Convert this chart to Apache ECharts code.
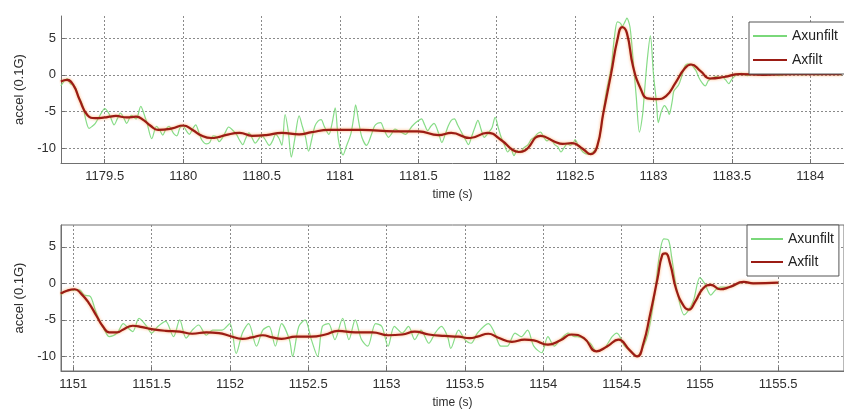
<!DOCTYPE html>
<html>
<head>
<meta charset="utf-8">
<script src="https://cdn.jsdelivr.net/npm/echarts@6/dist/echarts.min.js"></script>
<style>
html,body{margin:0;padding:0;background:#fff;}
#chart{width:844px;height:412px;}
</style>
</head>
<body>
<div id="chart"></div>
<script>
// ---------- data ----------
var seriesNames = ['Axunfilt', 'Axfilt'];
var yTicks = [-10, -5, 0, 5];
var topXTicks = [1179.5, 1180, 1180.5, 1181, 1181.5, 1182, 1182.5, 1183, 1183.5, 1184];
var botXTicks = [1151, 1151.5, 1152, 1152.5, 1153, 1153.5, 1154, 1154.5, 1155, 1155.5];

// top panel, unfiltered
var topRawT = [1179.22,1179.24,1179.26,1179.28,1179.31,1179.33,1179.36,1179.38,1179.40,1179.42,1179.44,1179.47,1179.50,1179.53,1179.56,1179.58,1179.60,1179.62,1179.64,1179.67,1179.70,1179.73,1179.75,1179.77,1179.80,1179.83,1179.85,1179.87,1179.89,1179.91,1179.94,1179.96,1179.98,1180.00,1180.02,1180.04,1180.06,1180.08,1180.10,1180.12,1180.15,1180.17,1180.19,1180.21,1180.23,1180.25,1180.27,1180.29,1180.31,1180.34,1180.36,1180.38,1180.40,1180.42,1180.44,1180.46,1180.48,1180.50,1180.52,1180.55,1180.57,1180.59,1180.61,1180.63,1180.65,1180.67,1180.69,1180.71,1180.74,1180.76,1180.78,1180.80,1180.82,1180.84,1180.86,1180.88,1180.90,1180.93,1180.95,1180.97,1180.99,1181.02,1181.04,1181.07,1181.09,1181.10,1181.12,1181.14,1181.17,1181.20,1181.22,1181.24,1181.26,1181.28,1181.31,1181.33,1181.35,1181.38,1181.42,1181.44,1181.46,1181.49,1181.52,1181.54,1181.56,1181.58,1181.60,1181.63,1181.65,1181.67,1181.69,1181.71,1181.73,1181.75,1181.77,1181.80,1181.82,1181.84,1181.86,1181.88,1181.90,1181.92,1181.95,1181.97,1181.99,1182.01,1182.03,1182.05,1182.07,1182.09,1182.11,1182.13,1182.15,1182.17,1182.20,1182.22,1182.24,1182.26,1182.28,1182.30,1182.32,1182.34,1182.37,1182.39,1182.41,1182.43,1182.45,1182.47,1182.49,1182.50,1182.52,1182.55,1182.58,1182.60,1182.62,1182.64,1182.66,1182.68,1182.70,1182.73,1182.75,1182.77,1182.79,1182.80,1182.82,1182.83,1182.85,1182.87,1182.89,1182.91,1182.93,1182.94,1182.96,1182.98,1183.00,1183.02,1183.03,1183.05,1183.07,1183.09,1183.10,1183.12,1183.13,1183.16,1183.18,1183.20,1183.22,1183.24,1183.27,1183.29,1183.31,1183.33,1183.35,1183.37,1183.40,1183.42,1183.44,1183.46,1183.48,1183.50,1183.53,1183.56,1183.60,1183.65,1183.70,1183.75,1183.80,1183.85,1183.90,1183.95,1184.00,1184.05,1184.10,1184.15,1184.20];
var topRawV = [-1.5,-0.9,-0.5,-1.2,-1.6,-2.8,-4.2,-6.2,-7.3,-7.0,-6.6,-5.5,-4.6,-5.4,-6.8,-6.0,-5.2,-5.8,-6.6,-5.5,-6.0,-4.3,-5.3,-6.6,-8.7,-7.0,-7.5,-8.2,-7.4,-7.0,-8.0,-8.3,-7.2,-7.0,-7.6,-8.1,-7.4,-6.8,-7.8,-8.9,-9.4,-9.2,-8.3,-8.4,-9.1,-8.6,-7.8,-7.1,-7.4,-8.1,-8.9,-9.5,-8.6,-7.9,-8.6,-9.3,-8.8,-8.2,-8.7,-9.6,-9.0,-8.1,-8.6,-9.6,-5.4,-7.6,-11.2,-9.0,-5.6,-7.0,-8.4,-10.4,-8.8,-7.0,-6.3,-6.1,-7.0,-8.1,-6.6,-4.5,-8.8,-10.9,-9.8,-8.0,-5.5,-4.1,-6.4,-8.5,-9.6,-8.2,-7.0,-6.6,-6.5,-7.4,-8.5,-8.0,-7.4,-7.7,-8.1,-7.6,-7.0,-6.4,-6.0,-6.8,-7.6,-7.0,-6.6,-8.0,-9.2,-8.2,-7.0,-6.2,-6.0,-6.8,-7.6,-8.8,-9.5,-8.4,-7.2,-6.2,-7.4,-8.5,-7.8,-7.2,-5.8,-7.2,-8.6,-9.6,-10.5,-10.0,-11.0,-10.3,-10.6,-10.0,-9.5,-8.8,-8.5,-8.0,-7.8,-8.5,-9.0,-8.7,-9.5,-9.8,-10.5,-9.9,-9.4,-9.6,-9.2,-8.8,-9.6,-10.5,-10.8,-10.7,-10.4,-9.8,-8.0,-5.0,-2.2,1.0,5.0,7.2,7.0,6.6,7.3,7.7,6.5,2.0,-3.0,-7.8,-5.5,-3.0,2.0,5.3,0.0,-4.0,-6.5,-5.0,-4.2,-4.8,-5.4,-3.5,-2.2,-1.4,-0.2,1.2,1.5,1.4,0.6,-0.4,-1.1,-1.5,-0.8,-0.5,-0.2,-0.4,-0.3,-0.7,-1.2,-0.6,0.0,0.2,-0.1,0.2,0.0,0.2,-0.1,0.1,0.2,0.0,0.1,0.0,0.2,0.1,0.0];

// top panel, filtered
var topFiltT = [1179.22,1179.26,1179.30,1179.34,1179.39,1179.44,1179.50,1179.53,1179.57,1179.64,1179.70,1179.75,1179.79,1179.84,1179.93,1180.00,1180.06,1180.12,1180.18,1180.22,1180.27,1180.36,1180.44,1180.53,1180.63,1180.74,1180.82,1180.93,1181.14,1181.35,1181.50,1181.63,1181.71,1181.83,1181.94,1182.03,1182.10,1182.14,1182.18,1182.28,1182.37,1182.42,1182.48,1182.55,1182.60,1182.64,1182.68,1182.73,1182.77,1182.80,1182.83,1182.87,1182.92,1182.96,1183.02,1183.08,1183.14,1183.20,1183.24,1183.30,1183.36,1183.45,1183.55,1183.70,1183.90,1184.20];
var topFiltV = [-0.9,-0.7,-1.4,-3.4,-5.5,-5.9,-5.8,-5.7,-5.6,-5.8,-5.7,-6.2,-6.9,-7.5,-7.3,-6.9,-7.5,-8.3,-8.6,-8.5,-8.2,-7.9,-8.3,-8.2,-7.9,-8.1,-7.8,-7.5,-7.5,-7.7,-7.7,-8.2,-7.9,-8.6,-7.9,-8.9,-10.2,-10.5,-10.3,-8.3,-9.1,-9.4,-9.3,-10.1,-10.8,-9.8,-5.2,0.2,4.8,6.5,5.7,1.1,-2.0,-3.2,-3.3,-2.9,-1.1,0.9,1.4,0.5,-0.5,-0.3,0.1,0.0,0.1,0.1];

// bottom panel, unfiltered
var botRawT = [1150.92,1150.96,1151.04,1151.07,1151.11,1151.14,1151.17,1151.20,1151.23,1151.28,1151.32,1151.35,1151.38,1151.42,1151.47,1151.50,1151.54,1151.59,1151.64,1151.68,1151.72,1151.76,1151.80,1151.85,1151.89,1151.95,1152.00,1152.04,1152.08,1152.12,1152.17,1152.21,1152.25,1152.29,1152.33,1152.38,1152.40,1152.44,1152.48,1152.52,1152.56,1152.59,1152.63,1152.67,1152.72,1152.76,1152.80,1152.84,1152.88,1152.93,1152.97,1153.01,1153.05,1153.10,1153.14,1153.18,1153.22,1153.27,1153.31,1153.35,1153.39,1153.41,1153.46,1153.50,1153.54,1153.58,1153.65,1153.69,1153.73,1153.77,1153.82,1153.86,1153.90,1153.94,1153.99,1154.03,1154.07,1154.11,1154.16,1154.20,1154.22,1154.30,1154.34,1154.39,1154.44,1154.47,1154.52,1154.57,1154.60,1154.64,1154.67,1154.71,1154.74,1154.77,1154.80,1154.82,1154.85,1154.90,1154.93,1154.96,1155.00,1155.03,1155.07,1155.10,1155.13,1155.19,1155.28,1155.36,1155.50];
var botRawV = [-1.6,-1.0,-0.9,-1.6,-1.8,-3.6,-5.2,-6.4,-7.3,-6.8,-5.5,-6.1,-6.6,-4.8,-5.9,-6.8,-5.9,-5.2,-7.3,-5.0,-7.5,-6.4,-5.7,-7.1,-6.4,-6.4,-5.5,-9.6,-6.8,-5.5,-8.6,-6.4,-5.9,-8.6,-5.5,-7.7,-10.0,-5.9,-5.0,-7.7,-10.0,-5.9,-5.5,-7.7,-4.8,-7.7,-5.0,-7.7,-8.6,-5.5,-5.9,-8.6,-5.9,-6.8,-5.9,-7.7,-6.4,-8.2,-6.8,-5.9,-7.3,-8.9,-6.4,-7.7,-8.2,-6.8,-5.5,-6.8,-8.6,-8.6,-6.8,-7.3,-6.4,-8.6,-9.5,-7.3,-8.6,-7.7,-6.8,-7.3,-7.3,-8.2,-9.3,-8.9,-7.3,-6.8,-8.6,-9.5,-10.0,-8.6,-6.8,-1.8,3.6,6.1,5.9,3.6,-0.5,-4.3,-3.6,-2.3,0.8,0.0,-1.6,-0.9,-0.5,-0.5,0.2,0.0,0.1];

// bottom panel, filtered
var botFiltT = [1150.92,1150.96,1151.01,1151.05,1151.10,1151.15,1151.19,1151.23,1151.28,1151.32,1151.38,1151.44,1151.51,1151.59,1151.68,1151.76,1151.85,1151.93,1152.00,1152.08,1152.14,1152.21,1152.27,1152.33,1152.42,1152.52,1152.61,1152.69,1152.80,1152.91,1153.01,1153.10,1153.18,1153.27,1153.37,1153.46,1153.53,1153.58,1153.65,1153.71,1153.80,1153.88,1153.94,1154.03,1154.11,1154.18,1154.26,1154.34,1154.41,1154.48,1154.55,1154.60,1154.64,1154.68,1154.73,1154.76,1154.78,1154.81,1154.85,1154.90,1154.93,1154.97,1155.02,1155.07,1155.13,1155.19,1155.28,1155.34,1155.50];
var botFiltV = [-1.4,-1.0,-0.8,-1.4,-2.7,-4.5,-5.9,-6.7,-6.7,-6.3,-5.8,-6.0,-6.3,-6.5,-6.6,-6.9,-6.7,-6.8,-7.2,-7.6,-7.4,-7.1,-7.4,-7.6,-7.3,-7.3,-7.0,-6.5,-6.7,-6.7,-7.1,-7.0,-6.6,-7.0,-7.2,-7.3,-7.5,-7.3,-6.9,-7.4,-8.0,-7.7,-7.8,-8.4,-7.8,-7.0,-7.5,-9.3,-8.6,-7.7,-9.1,-10.0,-8.2,-4.5,0.7,3.9,4.1,2.7,-0.9,-3.2,-3.6,-2.5,-0.7,-0.2,-0.8,-0.5,0.2,0.0,0.1];

// ---------- build ----------
function zip(t, v) { return t.map(function (x, i) { return [x, v[i]]; }); }

var FONT = '"Liberation Sans", Arial, sans-serif';
var TXT = '#2e2e2e';
var GRIDC = '#8a8a8a';
var AXC = '#707070';

function xAxisDef(gi, min, max, ticks) {
  return {
    type: 'value', gridIndex: gi, min: min, max: max,
    name: 'time (s)', nameLocation: 'middle', nameGap: 26,
    nameTextStyle: { fontFamily: FONT, fontSize: 12, color: TXT },
    axisLine: { show: true, onZero: false, lineStyle: { color: AXC, width: 1 } },
    axisTick: { show: true, inside: true, length: 4, customValues: ticks, lineStyle: { color: AXC } },
    axisLabel: { customValues: ticks, margin: 7, fontFamily: FONT, fontSize: 13, color: TXT,
      formatter: function (v) { return String(v); } },
    splitLine: { show: true, lineStyle: { color: GRIDC, type: [2, 2], width: 1 } }
  };
}
function yAxisDef(gi) {
  return {
    type: 'value', gridIndex: gi, min: -12, max: 8,
    name: 'accel (0.1G)', nameLocation: 'middle', nameGap: 27,
    nameTextStyle: { fontFamily: FONT, fontSize: 13, color: TXT },
    axisLine: { show: true, onZero: false, lineStyle: { color: AXC, width: 1 } },
    axisTick: { show: true, inside: true, length: 4, customValues: yTicks, lineStyle: { color: AXC } },
    axisLabel: { customValues: yTicks, margin: 5, fontFamily: FONT, fontSize: 13, color: TXT },
    splitLine: { show: true, lineStyle: { color: GRIDC, type: [2, 2], width: 1 } }
  };
}

var rawStyle = { color: '#7ad87a', width: 1.2, opacity: 0.9 };
var filtStyle = { color: '#9b1c14', width: 2.2, shadowColor: 'rgba(255,150,70,0.75)', shadowBlur: 3 };

var option = {
  backgroundColor: '#ffffff',
  animation: false,
  grid: [
    { left: 61, top: 16, right: -4, height: 147, show: false },
    { left: 61, top: 225, right: -4, height: 146, show: true, borderColor: AXC, borderWidth: 1, backgroundColor: 'transparent' }
  ],
  xAxis: [
    xAxisDef(0, 1179.221, 1184.215, topXTicks),
    xAxisDef(1, 1150.922, 1155.92, botXTicks)
  ],
  yAxis: [yAxisDef(0), yAxisDef(1)],
  legend: [
    { show: true, left: 749, top: 22, orient: 'vertical', icon: 'rect', itemWidth: 34, itemHeight: 2, itemGap: 10,
      padding: [7, 24, 7, 4], borderColor: '#555', borderWidth: 1, backgroundColor: '#fff',
      textStyle: { fontFamily: FONT, fontSize: 14, color: '#222', lineHeight: 14 }, data: seriesNames },
    { show: true, left: 747, top: 225, orient: 'vertical', icon: 'rect', itemWidth: 32, itemHeight: 2, itemGap: 9,
      padding: [7, 5, 7, 4], borderColor: '#555', borderWidth: 1, backgroundColor: '#fff',
      textStyle: { fontFamily: FONT, fontSize: 14, color: '#222', lineHeight: 14 }, data: seriesNames }
  ],
  series: [
    { name: seriesNames[0], type: 'line', xAxisIndex: 0, yAxisIndex: 0, data: zip(topRawT, topRawV),
      symbol: 'none', smooth: 0.3, lineStyle: rawStyle, itemStyle: { color: rawStyle.color }, z: 2 },
    { name: seriesNames[1], type: 'line', xAxisIndex: 0, yAxisIndex: 0, data: zip(topFiltT, topFiltV),
      symbol: 'none', smooth: 0.5, lineStyle: filtStyle, itemStyle: { color: filtStyle.color }, z: 3 },
    { name: seriesNames[0], type: 'line', xAxisIndex: 1, yAxisIndex: 1, data: zip(botRawT, botRawV),
      symbol: 'none', smooth: 0.3, lineStyle: rawStyle, itemStyle: { color: rawStyle.color }, z: 2 },
    { name: seriesNames[1], type: 'line', xAxisIndex: 1, yAxisIndex: 1, data: zip(botFiltT, botFiltV),
      symbol: 'none', smooth: 0.5, lineStyle: filtStyle, itemStyle: { color: filtStyle.color }, z: 3 }
  ]
};

var chart = echarts.init(document.getElementById('chart'), null, { renderer: 'canvas' });
chart.setOption(option);
</script>
</body>
</html>
